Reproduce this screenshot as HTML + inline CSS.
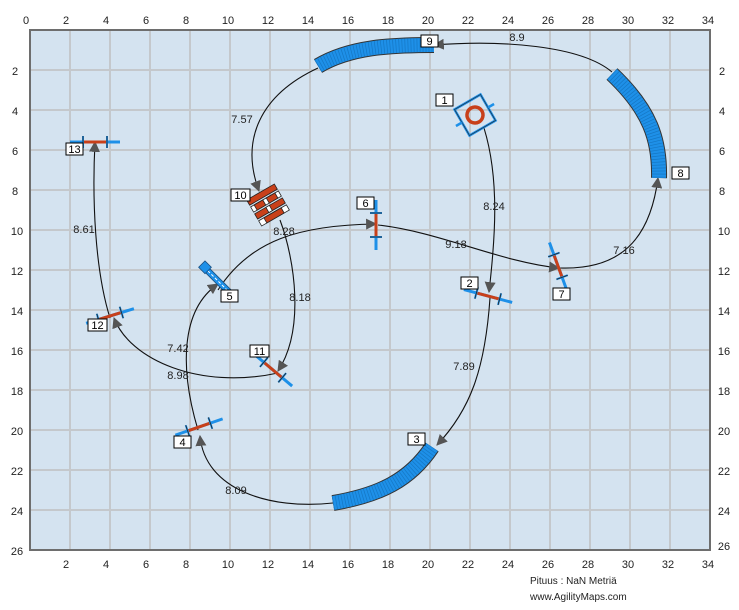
<!DOCTYPE html>
<html><head><meta charset="utf-8"><style>
body{margin:0;background:#fff;}
svg{display:block;font-family:"Liberation Sans",sans-serif;}
</style></head><body>
<svg width="739" height="610" viewBox="0 0 739 610" xmlns="http://www.w3.org/2000/svg">
<defs>
<marker id="ar" viewBox="0 0 10 10" refX="9" refY="5" markerWidth="11" markerHeight="11" markerUnits="userSpaceOnUse" orient="auto">
<path d="M0,0 L10,5 L0,10 z" fill="#555"/></marker>
<g id="jump">
<line x1="-25" y1="0" x2="25" y2="0" stroke="#1e90e8" stroke-width="3"/>
<line x1="-12" y1="0" x2="12" y2="0" stroke="#c8401a" stroke-width="3"/>
<line x1="-12" y1="-6" x2="-12" y2="6" stroke="#1e90e8" stroke-width="2"/>
<line x1="12" y1="-6" x2="12" y2="6" stroke="#1e90e8" stroke-width="2"/>
<line x1="-12" y1="-6" x2="-12" y2="6" stroke="#222" stroke-width="0.8"/>
<line x1="12" y1="-6" x2="12" y2="6" stroke="#222" stroke-width="0.8"/>
</g>
</defs>
<rect x="30" y="30" width="680" height="520" fill="#d4e3f0"/>
<g stroke="#c4c8cc" stroke-width="2">
<line x1="70" y1="30" x2="70" y2="550"/>
<line x1="110" y1="30" x2="110" y2="550"/><line x1="150" y1="30" x2="150" y2="550"/>
<line x1="190" y1="30" x2="190" y2="550"/><line x1="230" y1="30" x2="230" y2="550"/>
<line x1="270" y1="30" x2="270" y2="550"/><line x1="310" y1="30" x2="310" y2="550"/>
<line x1="350" y1="30" x2="350" y2="550"/><line x1="390" y1="30" x2="390" y2="550"/>
<line x1="430" y1="30" x2="430" y2="550"/><line x1="470" y1="30" x2="470" y2="550"/>
<line x1="510" y1="30" x2="510" y2="550"/><line x1="550" y1="30" x2="550" y2="550"/>
<line x1="590" y1="30" x2="590" y2="550"/><line x1="630" y1="30" x2="630" y2="550"/>
<line x1="670" y1="30" x2="670" y2="550"/>
<line x1="30" y1="70" x2="710" y2="70"/><line x1="30" y1="110" x2="710" y2="110"/>
<line x1="30" y1="150" x2="710" y2="150"/><line x1="30" y1="190" x2="710" y2="190"/>
<line x1="30" y1="230" x2="710" y2="230"/><line x1="30" y1="270" x2="710" y2="270"/>
<line x1="30" y1="310" x2="710" y2="310"/><line x1="30" y1="350" x2="710" y2="350"/>
<line x1="30" y1="390" x2="710" y2="390"/><line x1="30" y1="430" x2="710" y2="430"/>
<line x1="30" y1="470" x2="710" y2="470"/><line x1="30" y1="510" x2="710" y2="510"/>
</g>
<rect x="30" y="30" width="680" height="520" fill="none" stroke="#6e6e6e" stroke-width="2"/>
<g font-size="11" fill="#222" text-anchor="middle">
<text x="26" y="24">0</text><text x="66" y="24">2</text><text x="106" y="24">4</text><text x="146" y="24">6</text><text x="186" y="24">8</text><text x="228" y="24">10</text><text x="268" y="24">12</text><text x="308" y="24">14</text><text x="348" y="24">16</text><text x="388" y="24">18</text><text x="428" y="24">20</text><text x="468" y="24">22</text><text x="508" y="24">24</text><text x="548" y="24">26</text><text x="588" y="24">28</text><text x="628" y="24">30</text><text x="668" y="24">32</text><text x="708" y="24">34</text>
<text x="66" y="568">2</text><text x="106" y="568">4</text><text x="146" y="568">6</text><text x="186" y="568">8</text><text x="228" y="568">10</text><text x="268" y="568">12</text><text x="308" y="568">14</text><text x="348" y="568">16</text><text x="388" y="568">18</text><text x="428" y="568">20</text><text x="468" y="568">22</text><text x="508" y="568">24</text><text x="548" y="568">26</text><text x="588" y="568">28</text><text x="628" y="568">30</text><text x="668" y="568">32</text><text x="708" y="568">34</text>
</g>
<g font-size="11" fill="#222" text-anchor="middle">
<text x="15" y="75">2</text><text x="15" y="115">4</text><text x="15" y="155">6</text><text x="15" y="195">8</text><text x="17" y="235">10</text><text x="17" y="275">12</text><text x="17" y="315">14</text><text x="17" y="355">16</text><text x="17" y="395">18</text><text x="17" y="435">20</text><text x="17" y="475">22</text><text x="17" y="515">24</text><text x="17" y="555">26</text>
<text x="722" y="75">2</text><text x="722" y="115">4</text><text x="722" y="155">6</text><text x="722" y="195">8</text><text x="724" y="235">10</text><text x="724" y="275">12</text><text x="724" y="315">14</text><text x="724" y="355">16</text><text x="724" y="395">18</text><text x="724" y="435">20</text><text x="724" y="475">22</text><text x="724" y="515">24</text><text x="724" y="550">26</text>
</g>
<g fill="none" stroke="#111" stroke-width="1.1">
<path d="M484,128 C500,180 495,240 489,292" marker-end="url(#ar)"/>
<path d="M490,298 C485,370 470,410 437,445" marker-end="url(#ar)"/>
<path d="M333,503 C270,510 205,490 200,436" marker-end="url(#ar)"/>
<path d="M198,430 C180,370 180,310 218,284" marker-end="url(#ar)"/>
<path d="M218,290 C250,240 300,225 376,224" marker-end="url(#ar)"/>
<path d="M378,225 C440,232 500,262 559,268" marker-end="url(#ar)"/>
<path d="M560,268 C620,270 650,240 658,178" marker-end="url(#ar)"/>
<path d="M612,72 C580,45 500,40 434,45" marker-end="url(#ar)"/>
<path d="M318,68 C260,95 240,140 259,191" marker-end="url(#ar)"/>
<path d="M280,220 C295,260 305,330 278,371" marker-end="url(#ar)"/>
<path d="M278,373 C200,390 130,360 114,318" marker-end="url(#ar)"/>
<path d="M110,318 C95,270 92,200 95,142" marker-end="url(#ar)"/>
</g>
<g fill="none" stroke-linecap="butt">
<path d="M318,66 C350,47 390,45 434,45" stroke="#333" stroke-width="16"/>
<path d="M318,66 C350,47 390,45 434,45" stroke="#1e90e8" stroke-width="14"/>
<path d="M318,66 C350,47 390,45 434,45" stroke="#1577c4" stroke-width="14" stroke-dasharray="0.7 2.3"/>
<path d="M612,74 C650,110 660,140 659,178" stroke="#333" stroke-width="16"/>
<path d="M612,74 C650,110 660,140 659,178" stroke="#1e90e8" stroke-width="14"/>
<path d="M612,74 C650,110 660,140 659,178" stroke="#1577c4" stroke-width="14" stroke-dasharray="0.7 2.3"/>
<path d="M333,503 C380,495 410,480 432,447" stroke="#333" stroke-width="16"/>
<path d="M333,503 C380,495 410,480 432,447" stroke="#1e90e8" stroke-width="14"/>
<path d="M333,503 C380,495 410,480 432,447" stroke="#1577c4" stroke-width="14" stroke-dasharray="0.7 2.3"/>
</g>
<use href="#jump" transform="translate(95,142)"/>
<use href="#jump" transform="translate(110,316) rotate(-17)"/>
<use href="#jump" transform="translate(199,427) rotate(-19)"/>
<use href="#jump" transform="translate(488,296) rotate(15)"/>
<use href="#jump" transform="translate(558,266) rotate(70)"/>
<use href="#jump" transform="translate(376,225) rotate(90)"/>
<use href="#jump" transform="translate(273,370) rotate(40)"/>
<g transform="translate(205,268) rotate(45)">
<rect x="0" y="-3" width="36" height="6" fill="#1e90e8" stroke="#1a4f80" stroke-width="0.8"/>
<line x1="4" y1="0" x2="34" y2="0" stroke="#fff" stroke-width="1" stroke-dasharray="3 2"/>
<rect x="-5" y="-5" width="9" height="9" fill="#1e90e8" stroke="#1a4f80" stroke-width="0.8"/>
</g>
<g transform="translate(475,115) rotate(-30)">
<rect x="-15" y="-15" width="30" height="30" fill="none" stroke="#1e90e8" stroke-width="2.5"/>
<rect x="-15" y="-15" width="30" height="30" fill="none" stroke="#222" stroke-width="0.6"/>
<line x1="-22" y1="0" x2="-15" y2="0" stroke="#1e90e8" stroke-width="2.5"/>
<line x1="15" y1="0" x2="22" y2="0" stroke="#1e90e8" stroke-width="2.5"/>
<circle cx="0" cy="0" r="8" fill="none" stroke="#c8401a" stroke-width="3.5"/>
</g>
<g transform="translate(268,205) rotate(-30)" stroke="#222" stroke-width="0.8">
<rect x="-16" y="-15" width="32" height="6" fill="#c8401a"/>
<rect x="-16" y="-7" width="32" height="6" fill="#fff"/><rect x="-12" y="-7" width="10" height="6" fill="#c8401a"/><rect x="2" y="-7" width="10" height="6" fill="#c8401a"/>
<rect x="-16" y="1" width="32" height="6" fill="#c8401a"/><rect x="-3" y="1" width="4" height="6" fill="#fff"/>
<rect x="-16" y="9" width="32" height="6" fill="#fff"/><rect x="-10" y="9" width="20" height="6" fill="#c8401a"/>
</g>
<g font-size="11" text-anchor="middle" fill="#000">
<rect x="436" y="94" width="17" height="12" fill="#fff" stroke="#000"/><text x="444.5" y="104">1</text>
<rect x="461" y="277" width="17" height="12" fill="#fff" stroke="#000"/><text x="469.5" y="287">2</text>
<rect x="408" y="433" width="17" height="12" fill="#fff" stroke="#000"/><text x="416.5" y="443">3</text>
<rect x="174" y="436" width="17" height="12" fill="#fff" stroke="#000"/><text x="182.5" y="446">4</text>
<rect x="221" y="290" width="17" height="12" fill="#fff" stroke="#000"/><text x="229.5" y="300">5</text>
<rect x="357" y="197" width="17" height="12" fill="#fff" stroke="#000"/><text x="365.5" y="207">6</text>
<rect x="553" y="288" width="17" height="12" fill="#fff" stroke="#000"/><text x="561.5" y="298">7</text>
<rect x="672" y="167" width="17" height="12" fill="#fff" stroke="#000"/><text x="680.5" y="177">8</text>
<rect x="421" y="35" width="17" height="12" fill="#fff" stroke="#000"/><text x="429.5" y="45">9</text>
<rect x="231" y="189" width="19" height="12" fill="#fff" stroke="#000"/><text x="240.5" y="199">10</text>
<rect x="250" y="345" width="19" height="12" fill="#fff" stroke="#000"/><text x="259.5" y="355">11</text>
<rect x="88" y="319" width="19" height="12" fill="#fff" stroke="#000"/><text x="97.5" y="329">12</text>
<rect x="66" y="143" width="17" height="12" fill="#fff" stroke="#000"/><text x="74.5" y="153">13</text>
</g>
<g font-size="11" text-anchor="middle" fill="#222">
<text x="517" y="41">8.9</text><text x="242" y="123">7.57</text><text x="494" y="210">8.24</text>
<text x="456" y="248">9.18</text><text x="624" y="254">7.16</text><text x="284" y="235">8.28</text>
<text x="300" y="301">8.18</text><text x="84" y="233">8.61</text><text x="178" y="352">7.42</text>
<text x="178" y="379">8.98</text><text x="464" y="370">7.89</text><text x="236" y="494">8.09</text>
</g>
<g font-size="10" fill="#222">
<text x="530" y="584">Pituus : NaN Metriä</text>
<text x="530" y="600">www.AgilityMaps.com</text>
</g>
</svg>
</body></html>
